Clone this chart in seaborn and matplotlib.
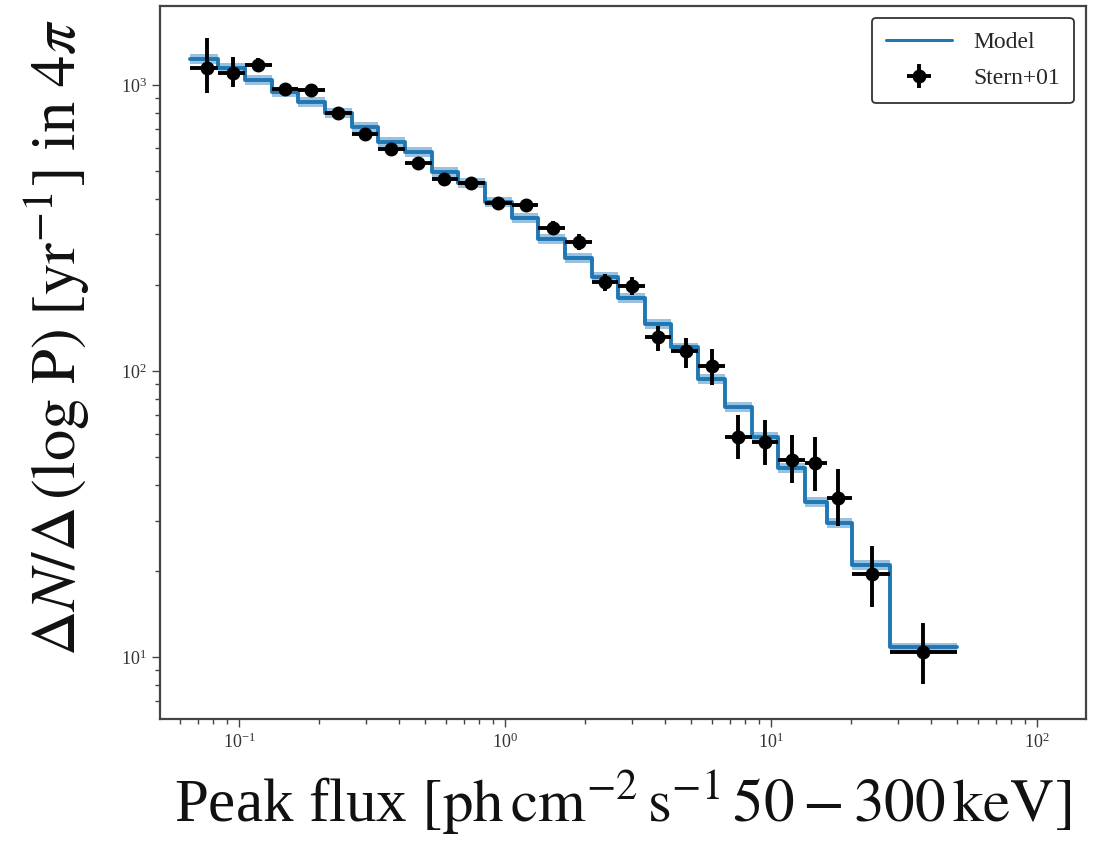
import numpy as np
import pandas as pd
import matplotlib
matplotlib.use('Agg')
import matplotlib.pyplot as plt
import seaborn as sns

# bin edges in peak flux (ph cm^-2 s^-1, 50-300 keV)
bin_edges = [0.0654, 0.0834, 0.1053, 0.1331, 0.1667, 0.2105, 0.2661, 0.3333,
             0.4207, 0.532, 0.666, 0.841, 1.063, 1.33, 1.68, 2.12, 2.66, 3.36,
             4.21, 5.32, 6.71, 8.48, 10.6, 13.4, 16.2, 20.2, 28.0, 50.0]

# model rate per bin
model_rate = [1233, 1147, 1041, 945, 872, 798, 713, 632, 583, 497, 454, 390,
              343, 289, 248, 213, 180, 146, 121, 93.8, 74.8, 58.8, 45.8, 34.8,
              29.4, 21.0, 10.8]

# Stern+01 data
stern_x = [0.0758, 0.0949, 0.1179, 0.149, 0.1866, 0.2356, 0.2976, 0.3726,
           0.471, 0.590, 0.745, 0.941, 1.20, 1.51, 1.90, 2.38, 3.00, 3.76,
           4.79, 6.00, 7.51, 9.49, 12.0, 14.6, 17.9, 24.0, 37.3]
stern_y = [1147, 1101, 1175, 968, 961, 798, 674, 598, 533, 469, 454, 386,
           380, 316, 282, 205, 198, 131, 117, 104, 58.7, 56.5, 48.9, 47.7,
           36.0, 19.5, 10.4]
stern_lo = [938, 984, 1110, 920, 915, 760, 640, 570, 508, 447, 432, 366,
            360, 298, 265, 191, 184, 117, 102, 89, 49.2, 46.9, 40.6, 38.0,
            28.7, 15.0, 8.05]
stern_hi = [1459, 1253, 1240, 1015, 1008, 838, 708, 628, 558, 492, 476, 406,
            400, 334, 300, 219, 213, 143, 130, 119, 70.2, 67.5, 59.7, 58.8,
            45.4, 24.4, 13.2]

blue = '#1f77b4'

sns.set_style('ticks')
plt.rcParams['font.family'] = ['Liberation Serif', 'DejaVu Serif']
plt.rcParams['mathtext.fontset'] = 'stix'

fig = plt.figure(figsize=(10.99, 8.41), dpi=100)
ax = fig.add_axes([0.1456, 0.145, 0.8424, 0.848])

edges = np.array(bin_edges)
rate = np.array(model_rate)
model_df = pd.DataFrame({'x': edges, 'y': np.append(rate, rate[-1])})

ax.fill_between(model_df['x'], model_df['y'] * 0.962, model_df['y'] * 1.038,
                step='post', color=blue, alpha=0.45, lw=0)
sns.lineplot(data=model_df, x='x', y='y', drawstyle='steps-post', color=blue,
             lw=2.8, ax=ax, label='Model', estimator=None, sort=False)

sx = np.array(stern_x)
sy = np.array(stern_y)
xerr = [sx - edges[:-1], edges[1:] - sx]
yerr = [sy - np.array(stern_lo), np.array(stern_hi) - sy]
ax.errorbar(sx, sy, xerr=xerr, yerr=yerr, fmt='o', color='black', ms=9,
            elinewidth=2.8, capsize=0, label='Stern+01', zorder=5)

ax.set_xscale('log')
ax.set_yscale('log')
ax.set_xlim(0.0504, 153)
ax.set_ylim(6.07, 1888)

ax.set_xlabel(r'Peak flux $[\mathrm{ph\,cm^{-2}\,s^{-1}\,50-300\,keV}]$',
              fontsize=44, labelpad=12, color='#111')
ax.set_ylabel(r'$\Delta N/\Delta\,(\log\,\mathrm{P})\;[\mathrm{yr}^{-1}]$ in $4\pi$',
              fontsize=45, color='#111')
ax.yaxis.set_label_coords(-0.074, 0.535)

ax.tick_params(which='major', length=6, width=1, labelsize=13,
               color='#444', labelcolor='#333')
ax.tick_params(which='minor', length=3.5, width=1, color='#444')
for s in ax.spines.values():
    s.set_linewidth(1.6)
    s.set_color('#444')

leg = ax.legend(loc='upper right', fontsize=17, frameon=True, fancybox=True,
                edgecolor='#333', framealpha=1, borderpad=0.6,
                handlelength=2.8, labelspacing=0.6, handletextpad=0.9)
leg.get_frame().set_linewidth(1.3)
leg.get_lines()[0].set_linewidth(2.2)

fig.savefig('out.png', dpi=100)
